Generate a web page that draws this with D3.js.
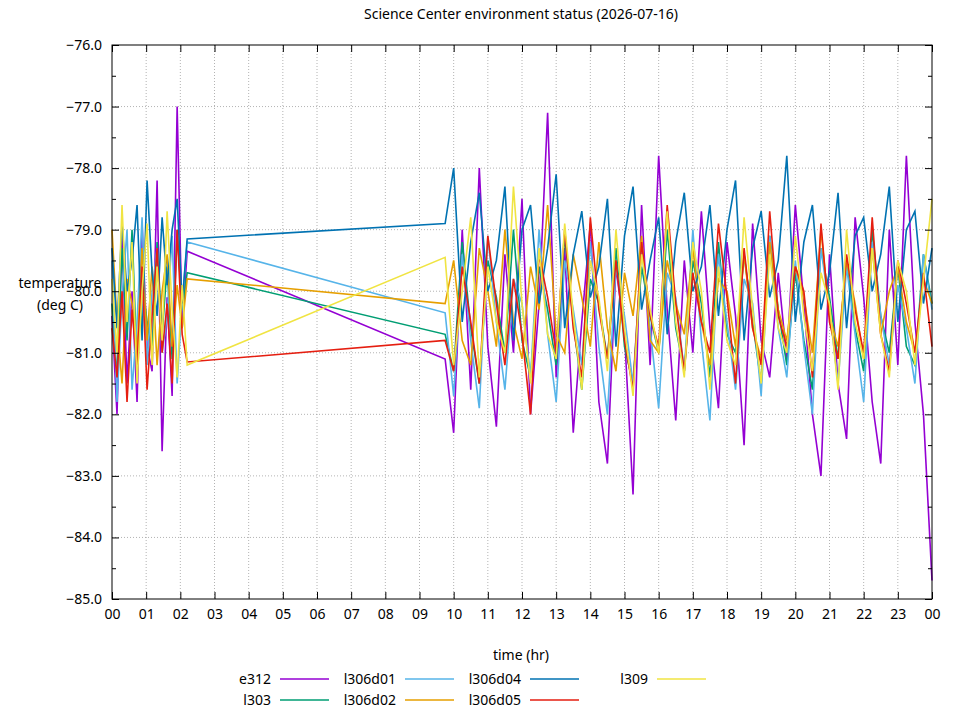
<!DOCTYPE html>
<html>
<meta charset="utf-8">
<head>
<title>environment status</title>
<script src="https://d3js.org/d3.v7.min.js"></script>
<style>
body { margin:0; background:#fff; }
text { font-family:"Noto Sans", sans-serif; fill:#000; }
</style>
</head>
<body>
<div id="plot"></div>
<script>
// readings: first block 00:00-02:12, second block 09:45-24:00
var series = [
 {name:"e312", color:"#9400d3",
  a:[-80.4,-82.0,-79.1,-81.5,-80.0,-81.8,-78.9,-80.9,-81.3,-78.2,-82.6,-80.1,-81.7,-77.0,-80.6,-79.35],
  b:[-81.1,-82.3,-79.0,-81.6,-78.0,-80.9,-82.2,-79.4,-81.0,-78.5,-82.0,-80.2,-77.1,-81.4,-79.3,-82.3,-80.5,-78.9,-81.8,-82.8,-79.6,-80.7,-83.3,-78.6,-81.2,-77.8,-80.3,-82.1,-79.5,-81.0,-78.7,-80.6,-81.9,-79.2,-80.4,-82.5,-78.9,-80.8,-81.4,-79.7,-81.1,-78.6,-80.2,-82.0,-83.0,-79.4,-81.5,-82.4,-78.8,-80.1,-81.8,-82.8,-79.0,-81.2,-77.8,-80.5,-82.0,-84.7]},
 {name:"l303", color:"#009e73",
  a:[-80.2,-81.4,-79.3,-80.8,-79.0,-81.2,-79.8,-80.5,-81.0,-79.2,-80.7,-79.6,-81.1,-79.0,-80.3,-79.7],
  b:[-80.7,-81.3,-79.2,-80.6,-81.5,-79.5,-80.1,-81.0,-79.0,-80.8,-81.4,-79.6,-80.3,-81.2,-79.1,-80.5,-81.6,-79.8,-80.2,-81.1,-79.3,-80.9,-81.5,-79.6,-80.4,-81.0,-79.0,-80.6,-81.3,-79.5,-80.2,-81.4,-79.2,-80.7,-81.0,-79.4,-80.5,-81.5,-79.1,-80.3,-81.2,-79.7,-80.8,-81.6,-79.3,-80.1,-81.1,-79.5,-80.6,-81.3,-79.0,-80.4,-81.0,-79.6,-80.9,-81.2,-79.4,-80.2]},
 {name:"l306d01", color:"#56b4e9",
  a:[-79.5,-81.8,-80.1,-79.0,-81.6,-80.5,-78.8,-81.2,-80.0,-79.3,-81.0,-80.4,-79.1,-81.5,-80.2,-79.2],
  b:[-80.35,-81.7,-79.4,-80.8,-81.9,-79.1,-80.5,-81.6,-79.8,-80.2,-81.4,-79.0,-80.7,-81.8,-79.5,-80.3,-81.2,-79.2,-80.9,-82.0,-79.6,-80.4,-81.5,-79.3,-80.6,-81.9,-79.7,-80.1,-81.3,-79.0,-80.8,-82.1,-79.4,-80.5,-81.6,-79.8,-80.2,-81.7,-79.1,-80.6,-81.4,-79.5,-80.9,-82.0,-79.3,-80.3,-81.5,-79.6,-80.7,-81.8,-79.2,-80.4,-81.2,-79.9,-80.6,-81.5,-79.4,-80.3]},
 {name:"l306d02", color:"#e69f00",
  a:[-79.0,-80.5,-81.5,-79.8,-80.2,-81.0,-79.3,-80.8,-79.6,-81.2,-80.0,-79.4,-80.9,-79.9,-80.6,-79.8],
  b:[-80.2,-79.5,-80.8,-81.2,-79.3,-80.0,-80.9,-79.0,-80.5,-81.1,-79.6,-80.3,-78.6,-80.7,-81.0,-79.4,-80.1,-80.9,-79.2,-80.6,-81.3,-79.7,-80.4,-79.1,-80.8,-81.0,-79.5,-80.2,-80.7,-79.3,-80.5,-81.2,-79.8,-80.0,-80.9,-79.4,-80.6,-81.1,-79.2,-80.3,-80.8,-79.6,-80.1,-81.0,-79.0,-80.4,-80.9,-79.5,-80.2,-81.1,-79.3,-80.7,-80.0,-79.6,-80.5,-81.0,-79.8,-80.2]},
 {name:"l306d04", color:"#0072b2",
  a:[-79.3,-80.6,-78.9,-80.0,-79.5,-78.6,-80.8,-78.2,-79.7,-80.4,-78.8,-79.9,-79.0,-78.5,-80.2,-79.15],
  b:[-78.9,-78.0,-80.5,-79.2,-78.4,-80.0,-79.5,-78.3,-80.8,-79.0,-78.6,-80.2,-79.3,-78.1,-80.6,-79.4,-78.7,-80.1,-79.6,-78.5,-80.9,-79.1,-78.3,-80.3,-79.5,-78.8,-80.7,-79.2,-78.4,-80.0,-79.6,-78.6,-80.4,-79.0,-78.2,-80.8,-79.3,-78.7,-80.1,-79.5,-77.8,-80.5,-79.2,-78.6,-80.3,-79.7,-78.4,-80.6,-79.1,-78.8,-80.0,-79.4,-78.3,-80.5,-79.0,-78.7,-80.2,-79.3]},
 {name:"l306d05", color:"#e51e10",
  a:[-80.6,-81.4,-80.0,-81.8,-80.3,-81.2,-79.6,-81.6,-80.4,-79.3,-81.0,-80.2,-81.5,-79.0,-80.7,-81.15],
  b:[-80.8,-81.3,-79.6,-80.5,-81.5,-79.1,-80.2,-81.2,-79.8,-80.7,-82.0,-79.4,-80.1,-81.0,-79.0,-80.6,-81.4,-78.8,-80.3,-81.1,-79.5,-80.8,-81.6,-79.2,-80.4,-80.9,-78.6,-80.2,-81.3,-79.7,-80.5,-81.0,-78.9,-80.1,-81.5,-79.3,-80.6,-81.2,-78.7,-80.4,-80.9,-79.6,-80.0,-81.4,-78.9,-80.5,-81.1,-79.4,-80.3,-81.0,-78.8,-80.7,-81.3,-79.5,-80.2,-81.0,-79.7,-80.9]},
 {name:"l309", color:"#f0e442",
  a:[-79.8,-81.0,-78.6,-80.5,-79.2,-81.5,-80.0,-78.9,-81.2,-79.6,-80.8,-78.7,-80.3,-81.4,-79.9,-81.2],
  b:[-79.45,-81.2,-80.0,-78.8,-81.4,-79.6,-80.5,-81.0,-78.3,-80.2,-81.5,-79.3,-80.7,-81.1,-78.9,-80.4,-81.6,-79.5,-80.1,-81.3,-79.0,-80.6,-81.7,-79.4,-80.3,-81.0,-78.7,-80.5,-81.4,-79.2,-80.0,-81.6,-79.6,-80.8,-81.2,-78.8,-80.3,-81.5,-79.4,-80.6,-81.0,-79.1,-80.4,-81.3,-79.7,-80.2,-81.6,-79.0,-80.5,-81.1,-79.3,-80.7,-81.4,-79.5,-80.0,-81.2,-79.8,-78.5]}
];

// time stamps for each reading (hours)
series.forEach(function(s){
	s.values = [];
	s.a.forEach(function(v,i){ s.values.push({t: i*2.2/(s.a.length-1), v:v}); });
	s.b.forEach(function(v,i){ s.values.push({t: 9.75 + i*(24-9.75)/(s.b.length-1), v:v}); });
});

var margin = {top:45, right:28, bottom:121, left:112};
var width = 960 - margin.left - margin.right;
var height = 720 - margin.top - margin.bottom;

var svg = d3.select("#plot").append("svg").attr("width",960).attr("height",720);
var g = svg.append("g").attr("transform","translate("+margin.left+","+margin.top+")");

var xScale = d3.scaleLinear().domain([0,24]).range([0,width]);
var yScale = d3.scaleLinear().domain([-85,-76]).range([height,0]);

var hours = d3.range(0,25);
var temps = d3.range(-85,-75.5,1);

// grid
g.selectAll(".gx").data(hours.slice(1,-1)).enter().append("line")
	.attr("x1",function(d){return xScale(d);}).attr("x2",function(d){return xScale(d);})
	.attr("y1",0).attr("y2",height)
	.attr("stroke","#a0a0a0").attr("stroke-width",0.8).attr("stroke-dasharray","1,2");
g.selectAll(".gy").data(temps.slice(1,-1)).enter().append("line")
	.attr("x1",0).attr("x2",width)
	.attr("y1",function(d){return yScale(d);}).attr("y2",function(d){return yScale(d);})
	.attr("stroke","#a0a0a0").attr("stroke-width",0.8).attr("stroke-dasharray","1,2");

// data
var line = d3.line().x(function(d){return xScale(d.t);}).y(function(d){return yScale(d.v);});
g.selectAll(".series").data(series).enter().append("path")
	.attr("d",function(d){return line(d.values);})
	.attr("fill","none").attr("stroke",function(d){return d.color;}).attr("stroke-width",1.6);

// axes: inward ticks, mirrored
var xAxis = d3.axisBottom(xScale).tickValues(hours).tickSize(-7).tickPadding(10)
	.tickFormat(function(d){ return d3.format("02d")(d%24); });
var yAxis = d3.axisLeft(yScale).tickValues(temps).tickSize(-7).tickPadding(10)
	.tickFormat(d3.format(".1f"));
g.append("g").attr("transform","translate(0,"+height+")").call(xAxis);
g.append("g").call(yAxis);
g.append("g").call(d3.axisTop(xScale).tickValues(hours).tickSize(-7).tickFormat(""));
g.append("g").attr("transform","translate("+width+",0)").call(d3.axisRight(yScale).tickValues(temps).tickSize(-7).tickFormat(""));
var minor = d3.range(-84.5,-76,1);
g.append("g").call(d3.axisLeft(yScale).tickValues(minor).tickSize(-4).tickFormat(""));
g.append("g").attr("transform","translate("+width+",0)").call(d3.axisRight(yScale).tickValues(minor).tickSize(-4).tickFormat(""));
g.selectAll(".domain").remove();
g.append("rect").attr("width",width).attr("height",height).attr("fill","none").attr("stroke","#000");
g.selectAll(".tick text").attr("font-size",14).attr("font-family","Noto Sans");

// labels
svg.append("text").attr("x",521).attr("y",19).attr("text-anchor","middle").attr("font-size",14)
	.text("Science Center environment status (2026-07-16)");
svg.append("text").attr("x",521).attr("y",660).attr("text-anchor","middle").attr("font-size",14).text("time (hr)");
var yl = svg.append("text").attr("text-anchor","middle").attr("font-size",14);
yl.append("tspan").attr("x",31).attr("y",288).text("temperature");
yl.append("tspan").attr("x",31).attr("y",310).text("(deg C)");
yl.attr("transform","translate(29,0)");

// key
var cols = [[0,1],[2,3],[4,5],[6]];
var colEnd = [271,396,521,648];
cols.forEach(function(c,ci){
	c.forEach(function(si,ri){
		var s = series[si], y = 679 + ri*21;
		svg.append("text").attr("x",colEnd[ci]).attr("y",y+5).attr("text-anchor","end").attr("font-size",14).text(s.name);
		svg.append("line").attr("x1",colEnd[ci]+9).attr("x2",colEnd[ci]+58).attr("y1",y).attr("y2",y)
			.attr("stroke",s.color).attr("stroke-width",1.6);
	});
});
</script>
</body>
</html>
